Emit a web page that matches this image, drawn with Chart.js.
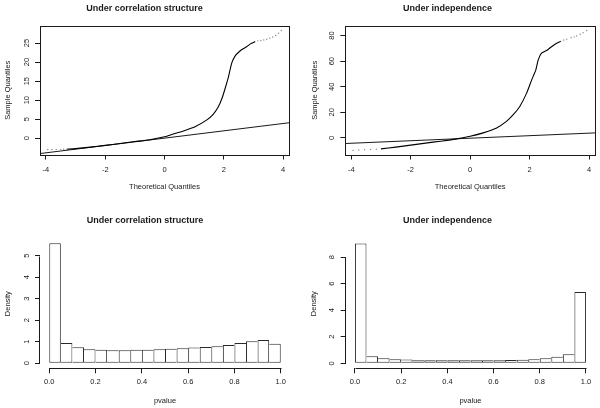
<!DOCTYPE html>
<html><head><meta charset="utf-8">
<script src="https://cdn.jsdelivr.net/npm/chart.js@4.4.1/dist/chart.umd.min.js"></script>
<style>
html,body{margin:0;padding:0;background:#fff;}
#wrap{position:relative;width:600px;height:408px;background:#fff;}
.p{position:absolute;width:300px;height:204px;}
canvas{display:block;}
</style></head><body>
<div id="wrap">
<div class="p" style="left:0;top:0"><canvas id="c1" width="300" height="204"></canvas></div>
<div class="p" style="left:300px;top:0"><canvas id="c2" width="300" height="204"></canvas></div>
<div class="p" style="left:0;top:204px"><canvas id="c3" width="300" height="204"></canvas></div>
<div class="p" style="left:300px;top:204px"><canvas id="c4" width="300" height="204"></canvas></div>
</div>
<script>
const FONT = "'Liberation Sans', Arial, Helvetica, sans-serif";

// ---------- Titles / labels ----------
const titleCorr = 'Under correlation structure';
const titleIndep = 'Under independence';
const qqXLabel = 'Theoretical Quantiles';
const qqYLabel = 'Sample Quantiles';
const histXLabel = 'pvalue';
const histYLabel = 'Density';

// ---------- QQ plot: under correlation structure ----------
const corrTheo   = [-3.3, -3.0, -2.5, -2.0, -1.5, -1.0, -0.5, 0.0, 0.2, 0.64, 1.03, 1.43, 1.65, 1.82, 1.94, 2.05, 2.16, 2.27, 2.39, 2.5, 2.61, 2.78, 2.9, 3.06];
const corrSample = [-2.9, -2.75, -2.35, -1.9, -1.4, -0.9, -0.4, 0.35, 0.84, 1.9, 3.0, 4.8, 6.3, 8.3, 10.5, 13.2, 16.2, 19.8, 21.7, 22.6, 23.3, 24.1, 24.8, 25.4];
const corrTailHiTheo   = [3.15, 3.25, 3.35, 3.45, 3.55, 3.65, 3.75, 3.85, 3.94];
const corrTailHiSample = [25.6, 25.7, 25.85, 26.0, 26.3, 26.6, 27.0, 27.6, 28.3];
const corrTailLoTheo   = [-3.94, -3.8, -3.65, -3.5, -3.4];
const corrTailLoSample = [-3.0, -2.98, -2.96, -2.94, -2.92];
const corrLineTheo   = [-4.2, 4.2];
const corrLineSample = [-4.05, 4.05];
const corrXTicks = [-4, -2, 0, 2, 4];
const corrXTickLabels = ['-4', '-2', '0', '2', '4'];
const corrYTicks = [0, 5, 10, 15, 20, 25];
const corrYTickLabels = ['0', '5', '10', '15', '20', '25'];

// ---------- QQ plot: under independence ----------
const indepTheo   = [-3.0, -2.5, -2.0, -1.5, -1.0, -0.5, 0.0, 0.44, 0.89, 1.22, 1.45, 1.67, 1.9, 2.07, 2.21, 2.29, 2.4, 2.57, 2.75, 2.91, 3.05];
const indepSample = [-8.6, -7.2, -5.7, -4.1, -2.6, -1.0, 1.25, 3.9, 7.8, 12.9, 18.2, 24.6, 35.0, 45.4, 53.2, 61.0, 66.3, 68.3, 71.5, 74.0, 75.5];
const indepTailHiTheo   = [3.15, 3.25, 3.4, 3.5, 3.58, 3.7, 3.8, 3.92];
const indepTailHiSample = [76.5, 77.2, 78.3, 79.0, 79.7, 81.0, 82.3, 84.0];
const indepTailLoTheo   = [-3.94, -3.75, -3.55, -3.35, -3.15];
const indepTailLoSample = [-9.8, -9.5, -9.3, -9.0, -8.8];
const indepLineTheo   = [-4.2, 4.2];
const indepLineSample = [-4.4, 3.9];
const indepXTicks = [-4, -2, 0, 2, 4];
const indepXTickLabels = ['-4', '-2', '0', '2', '4'];
const indepYTicks = [0, 20, 40, 60, 80];
const indepYTickLabels = ['0', '20', '40', '60', '80'];

// ---------- Histograms of p-values ----------
const binCenters = [0.025, 0.075, 0.125, 0.175, 0.225, 0.275, 0.325, 0.375, 0.425, 0.475, 0.525, 0.575, 0.625, 0.675, 0.725, 0.775, 0.825, 0.875, 0.925, 0.975];
const corrDensity  = [5.57, 0.94, 0.74, 0.65, 0.63, 0.60, 0.60, 0.63, 0.63, 0.65, 0.68, 0.70, 0.73, 0.76, 0.79, 0.85, 0.94, 1.02, 1.08, 0.91];
const indepDensity = [9.03, 0.53, 0.38, 0.30, 0.28, 0.23, 0.23, 0.23, 0.23, 0.23, 0.23, 0.23, 0.23, 0.25, 0.27, 0.30, 0.38, 0.50, 0.68, 5.36];
const pXTicks = [0, 0.2, 0.4, 0.6, 0.8, 1.0];
const pXTickLabels = ['0.0', '0.2', '0.4', '0.6', '0.8', '1.0'];
const corrDensTicks = [0, 1, 2, 3, 4, 5];
const corrDensTickLabels = ['0', '1', '2', '3', '4', '5'];
const indepDensTicks = [0, 2, 4, 6, 8];
const indepDensTickLabels = ['0', '2', '4', '6', '8'];

// ---------- helpers ----------
const zip = (xs, ys) => xs.map((x, i) => ({x: x, y: ys[i]}));
const INK = '#1a1a1a';

function axisCommon(ticks, labels) {
  return {
    type: 'linear',
    bounds: 'data',
    offset: false,
    afterBuildTicks: s => { s.ticks = ticks.map(v => ({value: v})); },
    grid: {display: true, offset: false, drawOnChartArea: false, drawTicks: true, tickLength: 5, color: INK, lineWidth: 1},
    border: {display: false},
    ticks: {
      autoSkip: false, color: INK,
      font: {family: FONT, size: 7.5},
      callback: (v, i) => labels[i]
    }
  };
}

const boxPlugin = {
  id: 'box',
  afterDraw(chart, args, o) {
    if (!o || !o.on) return;
    const a = chart.chartArea, ctx = chart.ctx;
    ctx.save();
    ctx.strokeStyle = INK; ctx.lineWidth = 1;
    ctx.strokeRect(Math.round(a.left) + 0.5, Math.round(a.top) + 0.5,
                   Math.round(a.right) - Math.round(a.left), Math.round(a.bottom) - Math.round(a.top));
    ctx.restore();
  }
};
const histAxesPlugin = {
  id: 'histAxes',
  afterDraw(chart, args, o) {
    if (!o || !o.on) return;
    const a = chart.chartArea, ctx = chart.ctx;
    const xs = chart.scales.x, ys = chart.scales.y;
    const xt = xs.ticks, yt = ys.ticks;
    ctx.save();
    ctx.strokeStyle = INK; ctx.lineWidth = 1;
    ctx.beginPath();
    const yb = Math.round(a.bottom) + 0.5;
    ctx.moveTo(Math.round(xs.getPixelForValue(xt[0].value)) + 0.5, yb);
    ctx.lineTo(Math.round(xs.getPixelForValue(xt[xt.length - 1].value)) + 0.5, yb);
    const xl = Math.round(a.left) - 0.5;
    ctx.moveTo(xl, Math.round(ys.getPixelForValue(yt[0].value)) + 0.5);
    ctx.lineTo(xl, Math.round(ys.getPixelForValue(yt[yt.length - 1].value)) + 0.5);
    ctx.stroke();
    ctx.restore();
  }
};

function makeChart(id, p) {
  const xAxis = axisCommon(p.xTicks, p.xLabels);
  Object.assign(xAxis, {min: p.xMin, max: p.xMax, position: 'bottom'});
  xAxis.ticks.padding = p.xTickPad;
  xAxis.ticks.maxRotation = 0; xAxis.ticks.minRotation = 0;
  xAxis.title = {display: true, text: p.xTitle, color: INK, font: {family: FONT, size: 7.5}, padding: {top: 0, bottom: p.xTitlePad}};
  xAxis.afterFit = s => { s.height = p.xH; };

  const yAxis = axisCommon(p.yTicks, p.yLabels);
  Object.assign(yAxis, {min: p.yMin, max: p.yMax, position: 'left'});
  yAxis.ticks.padding = p.yTickPad;
  yAxis.ticks.minRotation = 90; yAxis.ticks.maxRotation = 90;
  yAxis.ticks.crossAlign = 'center';
  yAxis.title = {display: true, text: p.yTitle, color: INK, font: {family: FONT, size: 7.5}, padding: {top: p.yTitlePad, bottom: 0}};
  yAxis.afterFit = s => { s.width = p.yW; };

  return new Chart(document.getElementById(id), {
    type: p.type,
    data: {datasets: p.datasets},
    plugins: [boxPlugin, histAxesPlugin],
    options: {
      responsive: false, animation: false, devicePixelRatio: 1,
      layout: {padding: {left: 0, right: p.padRight, top: 0, bottom: 0}},
      scales: {x: xAxis, y: yAxis},
      plugins: {
        legend: {display: false}, tooltip: {enabled: false},
        title: {display: true, text: p.title, color: INK, font: {family: FONT, size: 9, weight: 'bold', lineHeight: 1.2},
                padding: {top: p.titleTop, bottom: p.titleBottom}},
        box: {on: p.box}, histAxes: {on: !p.box}
      }
    }
  });
}

function qqDatasets(mx, my, hx, hy, lx, ly, ax, ay) {
  return [
    {data: zip(ax, ay), showLine: true, borderColor: INK, borderWidth: 1, pointRadius: 0, order: 2},
    {data: zip(mx, my), showLine: true, borderColor: '#000', borderWidth: 1.1, pointRadius: 0, tension: 0.2, order: 1},
    {data: zip(hx, hy), showLine: false, pointRadius: 0.7, pointBorderWidth: 0, pointBackgroundColor: '#888', order: 1},
    {data: zip(lx, ly), showLine: false, pointRadius: 0.7, pointBorderWidth: 0, pointBackgroundColor: '#888', order: 1}
  ];
}

function borderFor(vals) {
  return ctx => {
    const i = ctx.dataIndex, n = vals.length;
    return {
      top: 1, bottom: 1,
      left: (i === 0 || vals[i] >= vals[i - 1]) ? 1 : 0,
      right: (i === n - 1 || vals[i] > vals[i + 1]) ? 1 : 0
    };
  };
}
function histDatasets(vals) {
  return [{
    data: zip(binCenters, vals),
    backgroundColor: '#ffffff', borderColor: '#2a2a2a',
    borderWidth: borderFor(vals), borderSkipped: false, inflateAmount: 0,
    barPercentage: 1, categoryPercentage: 1
  }];
}

makeChart('c1', {
  type: 'scatter', box: true, title: titleCorr,
  datasets: qqDatasets(corrTheo, corrSample, corrTailHiTheo, corrTailHiSample, corrTailLoTheo, corrTailLoSample, corrLineTheo, corrLineSample),
  xMin: -4.2, xMax: 4.2, yMin: -4.3, yMax: 29.5,
  xTicks: corrXTicks, xLabels: corrXTickLabels, yTicks: corrYTicks, yLabels: corrYTickLabels,
  xTitle: qqXLabel, yTitle: qqYLabel,
  xH: 49.5, yW: 40, padRight: 11, xTickPad: 5.5, xTitlePad: 12.2, yTickPad: 4.1, yTitlePad: 3.5,
  titleTop: 2.9, titleBottom: 12.3
});
makeChart('c2', {
  type: 'scatter', box: true, title: titleIndep,
  datasets: qqDatasets(indepTheo, indepSample, indepTailHiTheo, indepTailHiSample, indepTailLoTheo, indepTailLoSample, indepLineTheo, indepLineSample),
  xMin: -4.2, xMax: 4.2, yMin: -13, yMax: 87.5,
  xTicks: indepXTicks, xLabels: indepXTickLabels, yTicks: indepYTicks, yLabels: indepYTickLabels,
  xTitle: qqXLabel, yTitle: qqYLabel,
  xH: 49.5, yW: 45.3, padRight: 5, xTickPad: 5.5, xTitlePad: 12.2, yTickPad: 4.4, yTitlePad: 10.5,
  titleTop: 2.9, titleBottom: 12.3
});
makeChart('c3', {
  type: 'bar', box: false, title: titleCorr,
  datasets: histDatasets(corrDensity),
  xMin: -0.04, xMax: 1.04, yMin: -0.233, yMax: 5.77,
  xTicks: pXTicks, xLabels: pXTickLabels, yTicks: corrDensTicks, yLabels: corrDensTickLabels,
  xTitle: histXLabel, yTitle: histYLabel,
  xH: 39.7, yW: 40, padRight: 10, xTickPad: 4.2, xTitlePad: 2.8, yTickPad: 6.2, yTitlePad: 3.8,
  titleTop: 11.3, titleBottom: 12.9
});
makeChart('c4', {
  type: 'bar', box: false, title: titleIndep,
  datasets: histDatasets(indepDensity),
  xMin: -0.04, xMax: 1.04, yMin: -0.377, yMax: 9.36,
  xTicks: pXTicks, xLabels: pXTickLabels, yTicks: indepDensTicks, yLabels: indepDensTickLabels,
  xTitle: histXLabel, yTitle: histYLabel,
  xH: 39.7, yW: 45.7, padRight: 4.8, xTickPad: 4.2, xTitlePad: 2.8, yTickPad: 6.9, yTitlePad: 9.5,
  titleTop: 11.3, titleBottom: 12.9
});
</script>
</body></html>
